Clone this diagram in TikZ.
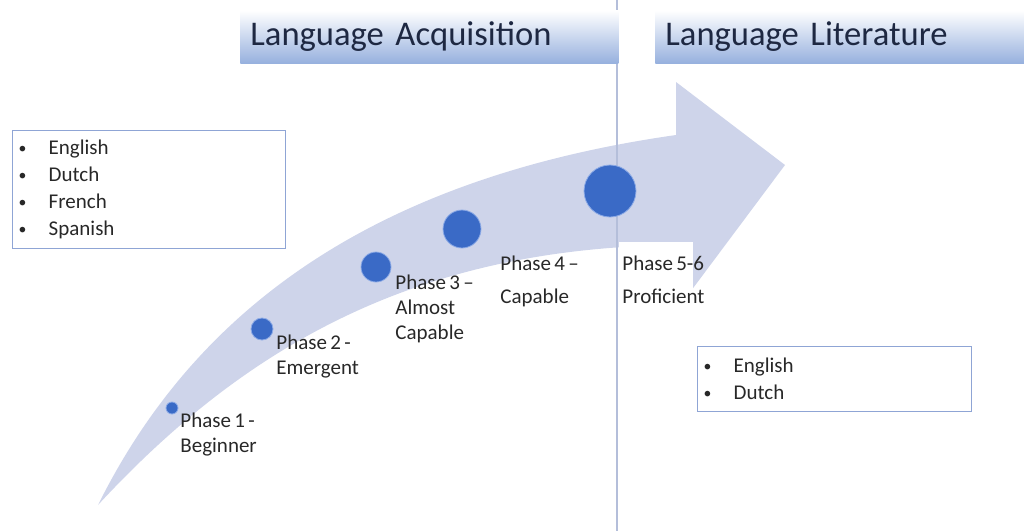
\documentclass[tikz,border=0pt]{standalone}
\usepackage{fontspec}
\setmainfont{Carlito}[WordSpace=0.7]
\definecolor{arrowfill}{RGB}{206,212,234}
\definecolor{dotblue}{RGB}{58,106,198}
\definecolor{dotrim}{RGB}{140,170,230}
\definecolor{headblue}{RGB}{150,176,222}
\definecolor{headtext}{RGB}{30,40,66}
\definecolor{boxblue}{RGB}{143,165,213}
\definecolor{labelgray}{RGB}{40,40,40}
\definecolor{divider}{RGB}{180,190,218}
\newcommand\langitem{\makebox[13pt][l]{\hspace{-2pt}\raisebox{0.6pt}{\scalebox{0.75}{\textbullet}}}}
\begin{document}
\begin{tikzpicture}[x=0.5pt,y=-0.5pt,
	phasedot/.style={circle,fill=dotblue,draw=dotrim,line width=0.4pt,inner sep=0pt},
	phaselabel/.style={anchor=north west,inner sep=0pt,align=left,text=labelgray,font=\fontsize{10.5}{12.5}\selectfont},
	heading/.style={anchor=north west,minimum height=26.5pt,inner xsep=5pt,inner ysep=0pt,top color=white,bottom color=headblue,text=headtext,align=left,font=\fontsize{17.3}{20}\selectfont},
	langbox/.style={anchor=north west,draw=boxblue,line width=0.7pt,inner xsep=5pt,inner ysep=0pt,align=left,text=labelgray,font=\fontsize{10.5}{13.5}\selectfont}]
	\useasboundingbox (0,0) rectangle (1024,531);
	
	% the growth arrow
	\fill[arrowfill] (98,505) .. controls (190,320) and (360,180) .. (676,135) -- (676,82) -- (785,165) -- (676,311) -- (676,245) .. controls (430,248) and (255,335) .. (98,505) -- cycle;
	\fill[white] (619,242) rectangle (693,318);
	\draw[divider, line width=0.6pt] (617,0) -- (617,531);
	
	\node[heading, text width=179pt] (headacq) at (240,10) {Language Acquisition};
	\node[heading, text width=174.5pt] (headlit) at (655,10) {Language Literature};
	
	\node[langbox, text width=126.5pt, minimum height=59pt] (langsacq) at (12,130) {\langitem English\\ \langitem Dutch\\ \langitem French\\ \langitem Spanish};
	\node[langbox, text width=127pt, minimum height=32.5pt] (langslit) at (697,346) {\langitem English\\ \langitem Dutch};
	
	\node[phasedot, minimum size=6pt] (p1) at (172,408) {};
	\node[phasedot, minimum size=11pt] (p2) at (262,329) {};
	\node[phasedot, minimum size=15pt] (p3) at (376,267) {};
	\node[phasedot, minimum size=19pt] (p4) at (462,229) {};
	\node[phasedot, minimum size=26pt] (p5) at (610,191) {};
	
	\node[phaselabel] (l1) at (180,413) {Phase 1 -\\Beginner};
	\node[phaselabel] (l2) at (276,335) {Phase 2 -\\Emergent};
	\node[phaselabel] (l3) at (395,275) {Phase 3 –\\Almost\\Capable};
	\node[phaselabel] (l4) at (500,256) {Phase 4 –\\[4pt]Capable};
	\node[phaselabel] (l5) at (622,256) {Phase 5-6\\[4pt]Proficient};
\end{tikzpicture}
\end{document}
